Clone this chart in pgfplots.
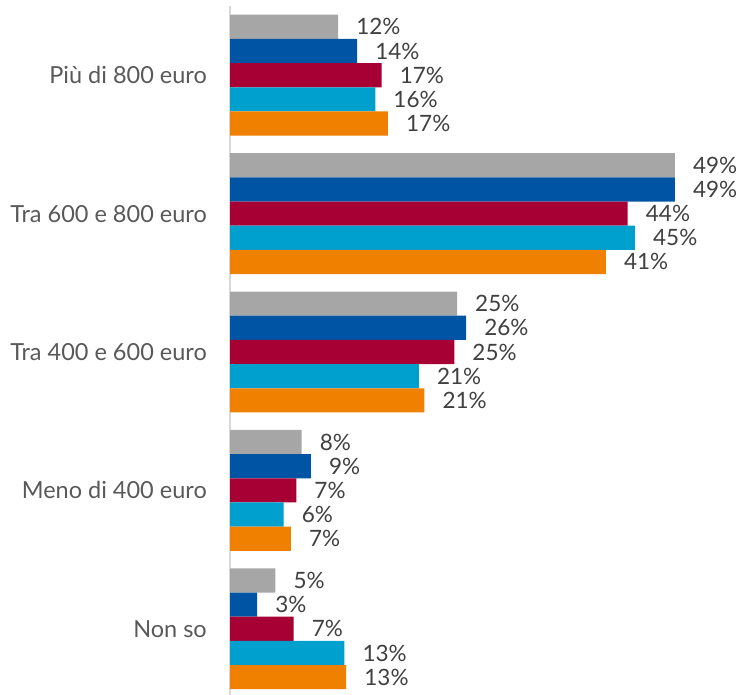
\documentclass[border=0pt]{standalone}
\usepackage{pgfplots}
\pgfplotsset{compat=1.18}
\usepackage{fontspec}
\setmainfont{Lato}
\definecolor{cgray}{RGB}{166,166,166}
\definecolor{cblue}{RGB}{0,84,164}
\definecolor{cred}{RGB}{166,0,52}
\definecolor{clblue}{RGB}{0,160,206}
\definecolor{corange}{RGB}{240,128,0}
\definecolor{ltext}{RGB}{64,64,64}
\definecolor{ctext}{RGB}{89,89,89}
\begin{document}
\begin{tikzpicture}
\useasboundingbox (0,0) rectangle (746pt,695pt);
\begin{axis}[
  at={(230pt,-3pt)}, anchor=south west,
  scale only axis, width=499.4pt, height=692pt,
  xmin=0, xmax=55, ymin=-0.5, ymax=4.5,
  xbar, bar width=0.1747,
  axis x line=none,
  axis y line*=left,
  y axis line style={draw=black!15, line width=1.5pt},
  ytick={0,1,2,3,4},
  yticklabels={Non so, Meno di 400 euro, Tra 400 e 600 euro, Tra 600 e 800 euro, Più di 800 euro},
  major tick length=0pt,
  yticklabel style={anchor=east, inner sep=0pt, xshift=-23pt, font=\fontsize{23.5}{26}\selectfont, text=ctext},
  clip=false,
  point meta=x,
  /pgf/number format/.cd, fixed, precision=0, assume math mode=true,
  /pgfplots/.cd,
  nodes near coords={\pgfmathprintnumber{\pgfplotspointmeta}\%},
  nodes near coords style={anchor=west, inner sep=0pt, xshift=18pt, font=\fontsize{22.5}{25}\selectfont, text=ltext},
]
\addplot[fill=cgray, draw=none, bar shift=0.3494] coordinates {(5.0,0) (7.9,1) (25.0,2) (49.0,3) (11.9,4)};
\addplot[fill=cblue, draw=none, bar shift=0.1747] coordinates {(3.0,0) (8.9,1) (26.0,2) (49.0,3) (14.0,4)};
\addplot[fill=cred, draw=none, bar shift=0] coordinates {(7.0,0) (7.3,1) (24.7,2) (43.8,3) (16.7,4)};
\addplot[fill=clblue, draw=none, bar shift=-0.1747] coordinates {(12.6,0) (5.9,1) (20.8,2) (44.6,3) (16.0,4)};
\addplot[fill=corange, draw=none, bar shift=-0.3494] coordinates {(12.8,0) (6.7,1) (21.4,2) (41.4,3) (17.4,4)};
\end{axis}
\end{tikzpicture}
\end{document}
